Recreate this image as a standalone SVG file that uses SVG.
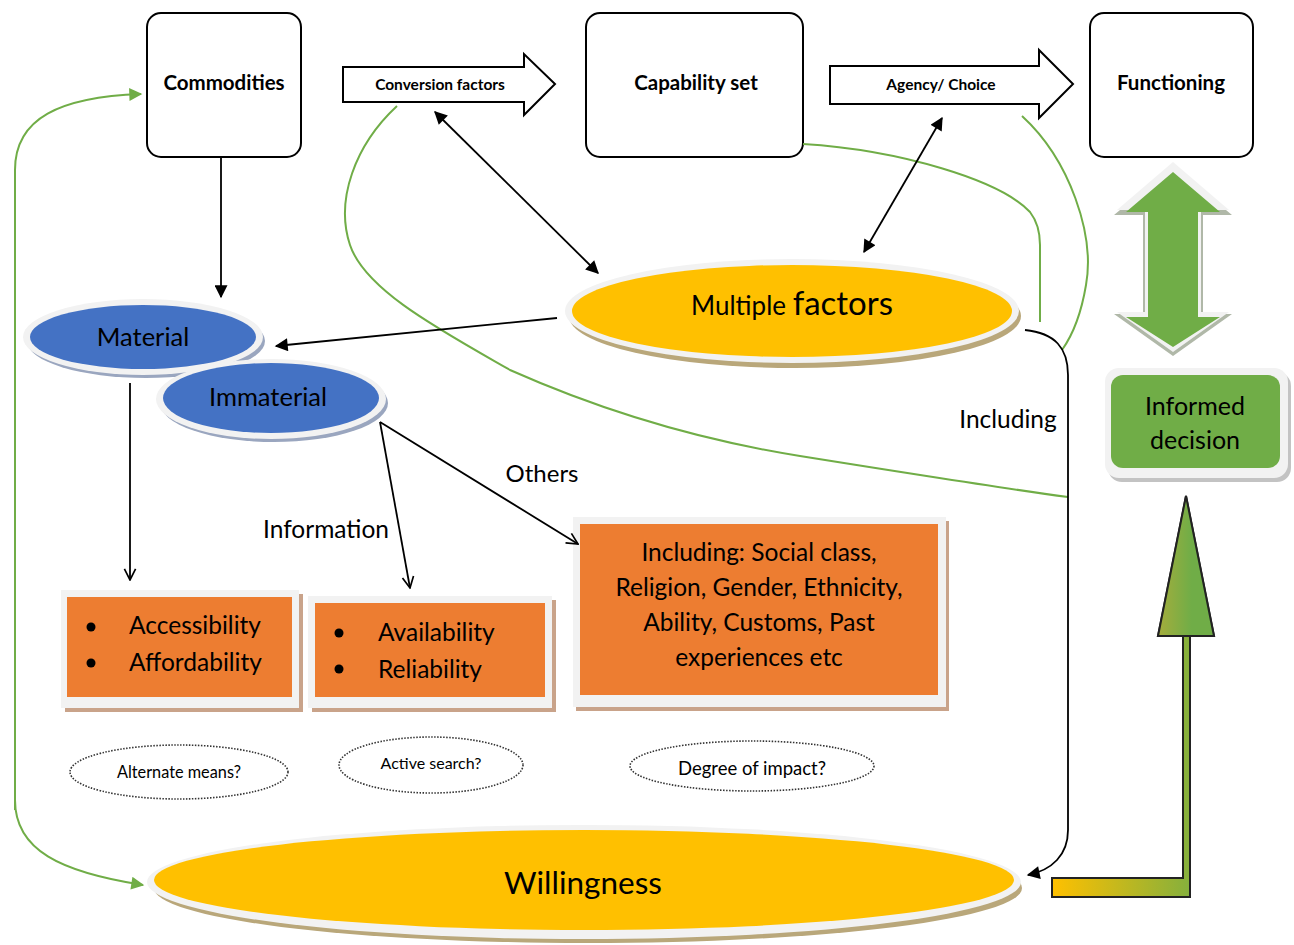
<svg xmlns="http://www.w3.org/2000/svg" width="1294" height="945" viewBox="0 0 1294 945">
<defs>
<style>
text{font-family:Lato,"Open Sans","Liberation Sans",sans-serif;fill:#000}
.box{fill:#fff;stroke:#000;stroke-width:2}
.blk{fill:none;stroke:#000;stroke-width:1.8}
.grn{fill:none;stroke:#70ad47;stroke-width:2}
.dot{fill:#fff;stroke:#333;stroke-width:1.6;stroke-dasharray:1.5 1.5}
.rim{fill:#f2f2f2}
.bold{font-weight:bold}
</style>
<marker id="af" viewBox="0 0 10 10" refX="9" refY="5" markerUnits="userSpaceOnUse" markerWidth="15" markerHeight="13" orient="auto-start-reverse"><path d="M0,0 L10,5 L0,10 z" fill="#000"/></marker>
<marker id="ao" viewBox="0 0 10 10" refX="9" refY="5" markerUnits="userSpaceOnUse" markerWidth="14" markerHeight="14" orient="auto"><path d="M1,1 L9,5 L1,9" fill="none" stroke="#000" stroke-width="1.2"/></marker>
<marker id="ag" viewBox="0 0 10 10" refX="9" refY="5" markerUnits="userSpaceOnUse" markerWidth="15" markerHeight="13" orient="auto-start-reverse"><path d="M0,0 L10,5 L0,10 z" fill="#70ad47"/></marker>
<linearGradient id="gh" x1="0" y1="0" x2="1" y2="0"><stop offset="0" stop-color="#ffc000"/><stop offset="1" stop-color="#70ad47"/></linearGradient>
<linearGradient id="gt" x1="0" y1="0" x2="1" y2="0"><stop offset="0" stop-color="#a5ad3c"/><stop offset="0.6" stop-color="#70ad47"/></linearGradient>
</defs>

<g id="commodities">
<rect class="box" x="147" y="13" width="154" height="144" rx="14"/>
<text class="bold" x="224" y="90" font-size="20.5" text-anchor="middle">Commodities</text>
</g>
<g id="capability">
<rect class="box" x="586" y="13" width="217" height="144" rx="14"/>
<text class="bold" x="696" y="90" font-size="20.5" text-anchor="middle">Capability set</text>
</g>
<g id="functioning">
<rect class="box" x="1090" y="13" width="163" height="144" rx="14"/>
<text class="bold" x="1171" y="90" font-size="20.5" text-anchor="middle">Functioning</text>
</g>

<g id="conversion">
<path d="M343,67 L524,67 L524,54 L555,84 L524,115 L524,102 L343,102 z" fill="#fff" stroke="#000" stroke-width="2"/>
<text class="bold" x="440" y="90" font-size="15.5" text-anchor="middle">Conversion factors</text>
</g>
<g id="agency">
<path d="M830,66 L1039,66 L1039,50 L1073,84 L1039,118 L1039,104 L830,104 z" fill="#fff" stroke="#000" stroke-width="2"/>
<text class="bold" x="941" y="90" font-size="15.5" text-anchor="middle">Agency/ Choice</text>
</g>

<g id="multiple">
<ellipse cx="795" cy="316" rx="226" ry="52" fill="#b9a77a"/>
<ellipse cx="792" cy="311" rx="227" ry="52" class="rim"/>
<ellipse cx="792" cy="311" rx="220" ry="46" fill="#ffc000"/>
<text x="792" y="315" text-anchor="middle"><tspan font-size="26">Multiple </tspan><tspan font-size="33">factors</tspan></text>
</g>

<g id="material">
<ellipse cx="146" cy="341" rx="119" ry="37" fill="#9aa6bf"/>
<ellipse cx="143" cy="337" rx="120" ry="38" class="rim"/>
<ellipse cx="143" cy="337" rx="113" ry="32" fill="#4472c4"/>
<text x="143" y="346" font-size="25.5" text-anchor="middle">Material</text>
</g>
<g id="immaterial">
<ellipse cx="274" cy="403" rx="114" ry="39" fill="#9aa6bf"/>
<ellipse cx="271" cy="399" rx="115" ry="40" class="rim"/>
<ellipse cx="271" cy="398" rx="108" ry="35" fill="#4472c4"/>
<text x="268" y="406" font-size="25.5" text-anchor="middle">Immaterial</text>
</g>

<g id="box-material">
<rect x="65" y="594" width="238" height="118" fill="#c9a38a"/>
<rect x="61" y="590" width="238" height="118" class="rim"/>
<rect x="67" y="597" width="225" height="100" fill="#ed7d31"/>
<circle cx="91" cy="627" r="4.5" fill="#000"/>
<circle cx="91" cy="663" r="4.5" fill="#000"/>
<text x="129" y="634" font-size="24.5">Accessibility</text>
<text x="129" y="671" font-size="24.5">Affordability</text>
</g>
<g id="box-information">
<rect x="312" y="600" width="244" height="112" fill="#c9a38a"/>
<rect x="308" y="596" width="244" height="112" class="rim"/>
<rect x="315" y="603" width="230" height="94" fill="#ed7d31"/>
<circle cx="339" cy="633" r="4.5" fill="#000"/>
<circle cx="339" cy="669" r="4.5" fill="#000"/>
<text x="378" y="641" font-size="24.5">Availability</text>
<text x="378" y="678" font-size="24.5">Reliability</text>
</g>
<g id="box-others">
<rect x="576" y="521" width="373" height="190" fill="#c9a38a"/>
<rect x="573" y="517" width="373" height="190" class="rim"/>
<rect x="580" y="524" width="358" height="171" fill="#ed7d31"/>
<g font-size="24.5" text-anchor="middle">
<text x="759" y="561">Including: Social class,</text>
<text x="759" y="596">Religion, Gender, Ethnicity,</text>
<text x="759" y="631">Ability, Customs, Past</text>
<text x="759" y="666">experiences etc</text>
</g>
</g>

<g id="q-alternate">
<ellipse class="dot" cx="179" cy="772" rx="109" ry="27"/>
<text x="179" y="778" font-size="16.3" text-anchor="middle">Alternate means?</text>
</g>
<g id="q-active">
<ellipse class="dot" cx="431" cy="765" rx="92" ry="28"/>
<text x="431" y="769" font-size="16" text-anchor="middle">Active search?</text>
</g>
<g id="q-degree">
<ellipse class="dot" cx="752" cy="766" rx="122" ry="25"/>
<text x="752" y="775" font-size="18.5" text-anchor="middle">Degree of impact?</text>
</g>

<g id="willingness">
<ellipse cx="588" cy="888" rx="434" ry="55" fill="#b9a77a"/>
<ellipse cx="584" cy="882" rx="437" ry="57" class="rim"/>
<ellipse cx="584" cy="880" rx="430" ry="50" fill="#ffc000"/>
<text x="583" y="894" font-size="31.5" text-anchor="middle">Willingness</text>
</g>

<g id="informed">
<rect x="1108" y="372" width="183" height="110" rx="14" fill="#a9a9a9" opacity="0.7"/>
<rect x="1105" y="368" width="183" height="110" rx="14" class="rim"/>
<rect x="1111" y="375" width="169" height="93" rx="12" fill="#70ad47"/>
<text x="1195" y="415" font-size="25" text-anchor="middle">Informed</text>
<text x="1195" y="449" font-size="25" text-anchor="middle">decision</text>
</g>

<g id="double-arrow">
<path d="M1173,166 L1232,215 L1203,215 L1203,314 L1232,314 L1173,356 L1114,314 L1143,314 L1143,215 L1114,215 z" fill="#b0b8a8"/>
<path d="M1173,162 L1229,210 L1201,210 L1201,312 L1229,312 L1173,352 L1117,312 L1145,312 L1145,210 L1117,210 z" class="rim"/>
<path d="M1173,172 L1220,212 L1198,212 L1198,317 L1220,317 L1173,347 L1126,317 L1148,317 L1148,212 L1126,212 z" fill="#70ad47"/>
</g>

<g id="up-arrow">
<path d="M1052,878 L1183,878 L1183,636 L1158,636 L1186,496 L1214,636 L1190,636 L1190,897 L1052,897 z" fill="url(#gh)" stroke="#222" stroke-width="2"/>
<path d="M1158,636 L1186,496 L1214,636 z" fill="url(#gt)" stroke="#222" stroke-width="2"/>
</g>

<g id="connectors">
<path class="grn" d="M803,144 C900,150 1000,180 1030,212 Q1040,225 1040,245 L1040,322"/>
<path class="grn" d="M1022,116 C1070,160 1095,235 1086,285 C1081,315 1072,336 1062,350"/>
<path class="grn" d="M397,106 C355,145 335,200 350,245 C365,290 440,330 510,370 C600,410 700,440 800,456 C900,472 1000,488 1068,497"/>
<path class="grn" d="M15,810 L15,170 C15,118 60,97 141,94" marker-end="url(#ag)"/>
<path class="grn" d="M15,800 C15,850 60,872 143,885" marker-end="url(#ag)"/>
<line class="blk" x1="221" y1="157" x2="221" y2="297" marker-end="url(#af)"/>
<line class="blk" x1="557" y1="318" x2="276" y2="346" marker-end="url(#af)"/>
<line class="blk" x1="435" y1="112" x2="598" y2="273" marker-start="url(#af)" marker-end="url(#af)"/>
<line class="blk" x1="942" y1="118" x2="864" y2="252" marker-start="url(#af)" marker-end="url(#af)"/>
<line class="blk" x1="130" y1="383" x2="130" y2="580" marker-end="url(#ao)"/>
<line class="blk" x1="380" y1="422" x2="410" y2="588" marker-end="url(#ao)"/>
<line class="blk" x1="380" y1="422" x2="578" y2="544" marker-end="url(#ao)"/>
<path class="blk" d="M1025,330 C1055,333 1068,348 1068,375 L1068,830 C1068,855 1052,870 1028,875" marker-end="url(#af)"/>
<text x="1008" y="428" font-size="24.5" text-anchor="middle">Including</text>
<text x="326" y="538" font-size="24.5" text-anchor="middle">Information</text>
<text x="542" y="482" font-size="24" text-anchor="middle">Others</text>
</g>
</svg>
